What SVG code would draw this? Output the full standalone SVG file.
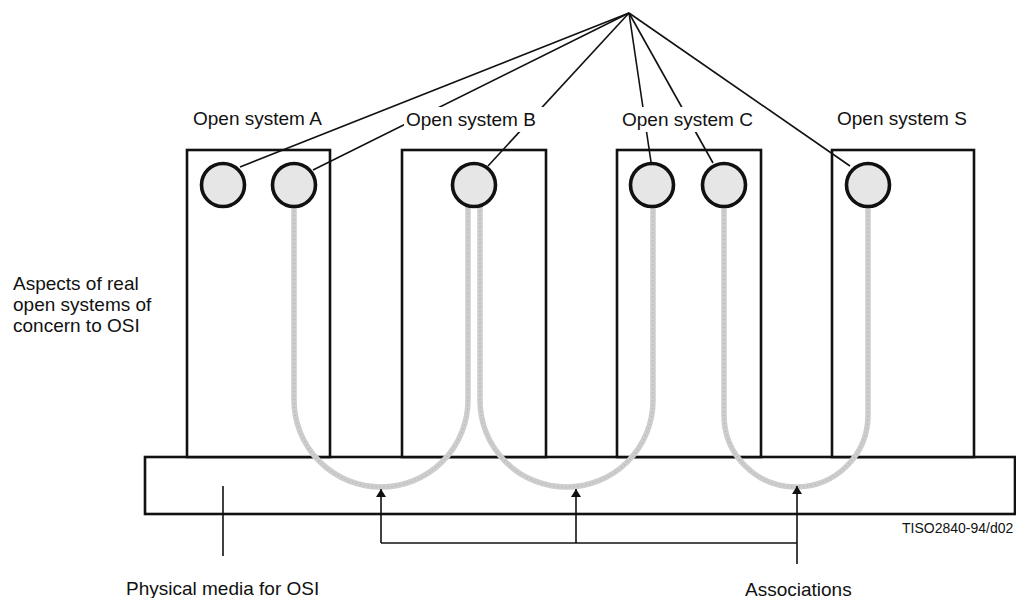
<svg xmlns="http://www.w3.org/2000/svg" width="1016" height="598" viewBox="0 0 1016 598">
  <style>
    .box { fill: #ffffff; stroke: #111111; stroke-width: 2.6; }
    .port { fill: #e6e6e6; stroke: #111111; stroke-width: 3.6; }
    .label { font-family: "Liberation Sans", Arial, sans-serif; font-size: 19px; fill: #111111; }
    .small { font-family: "Liberation Sans", Arial, sans-serif; font-size: 14px; fill: #111111; }
    .link { fill: none; stroke: #111111; stroke-width: 1.6; }
    .assoc { fill: none; stroke: #cdcdcd; stroke-width: 5.5; stroke-linecap: round; }
    .grain { fill: none; stroke: #b4b4b4; stroke-width: 1.2; stroke-dasharray: 1 3; }
    .lead { fill: none; stroke: #111111; stroke-width: 1.6; }
    .mask { fill: #ffffff; }
  </style>
  <defs>
    <marker id="tip" viewBox="0 0 8 10" refX="8" refY="5" markerWidth="8" markerHeight="10" markerUnits="userSpaceOnUse" orient="auto">
      <path d="M0,0 L8,5 L0,10 Z" fill="#111111"/>
    </marker>
  </defs>

  <rect width="1016" height="598" fill="#ffffff"/>

  <!-- physical media (shared platform) -->
  <g id="physical-media">
    <rect class="box" x="145" y="457" width="870" height="57"/>
  </g>

  <!-- open systems -->
  <g id="system-a">
    <rect class="box" x="187" y="150" width="143" height="307"/>
    <text class="label" x="193" y="125">Open system A</text>
  </g>
  <g id="system-b">
    <rect class="box" x="402" y="150" width="144" height="307"/>
  </g>
  <g id="system-c">
    <rect class="box" x="617" y="150" width="144" height="307"/>
  </g>
  <g id="system-s">
    <rect class="box" x="832" y="150" width="142" height="307"/>
    <text class="label" x="837" y="125">Open system S</text>
  </g>

  <!-- connectors -->
  <g id="connectors">
    <!-- lines from the common point to each entity -->
    <g id="entity-links">
      <line class="link" x1="629" y1="13" x2="240" y2="167"/>
      <line class="link" x1="629" y1="13" x2="313" y2="170"/>
      <line class="link" x1="629" y1="13" x2="488" y2="166"/>
      <line class="link" x1="629" y1="13" x2="651" y2="162"/>
      <line class="link" x1="629" y1="13" x2="713" y2="163"/>
      <line class="link" x1="629" y1="13" x2="850" y2="166"/>
    </g>
    <!-- associations through the physical media -->
    <g id="associations">
      <path class="assoc" d="M294,207 V400 A87,87 0 0 0 468,400 V207"/>
      <path class="assoc" d="M480,207 V400.5 A86.5,86.5 0 0 0 653,400.5 V207"/>
      <path class="assoc" d="M724,207 V415 A72,72 0 0 0 868,415 V207"/>
      <path class="grain" d="M294,207 V400 A87,87 0 0 0 468,400 V207"/>
      <path class="grain" d="M480,207 V400.5 A86.5,86.5 0 0 0 653,400.5 V207"/>
      <path class="grain" d="M724,207 V415 A72,72 0 0 0 868,415 V207"/>
    </g>
    <!-- leaders -->
    <g id="leaders">
      <line class="lead" x1="223" y1="486" x2="223" y2="556"/>
      <polyline class="lead" points="381,543 797,543"/>
      <line class="lead" x1="381" y1="543" x2="381" y2="489" marker-end="url(#tip)"/>
      <line class="lead" x1="576" y1="543" x2="576" y2="489" marker-end="url(#tip)"/>
      <line class="lead" x1="797" y1="564" x2="797" y2="486" marker-end="url(#tip)"/>
    </g>
  </g>

  <!-- entity ports -->
  <g id="ports">
    <circle class="port" cx="223" cy="185" r="21.5"/>
    <circle class="port" cx="294" cy="185" r="21.5"/>
    <circle class="port" cx="474" cy="185" r="21.5"/>
    <circle class="port" cx="652" cy="185" r="21.5"/>
    <circle class="port" cx="724" cy="185" r="21.5"/>
    <circle class="port" cx="868" cy="185" r="21.5"/>
  </g>

  <!-- labels that interrupt the entity links -->
  <g id="label-b">
    <rect class="mask" x="404" y="107" width="141" height="25"/>
    <text class="label" x="406" y="126">Open system B</text>
  </g>
  <g id="label-c">
    <rect class="mask" x="620" y="107" width="138" height="25"/>
    <text class="label" x="622" y="126">Open system C</text>
  </g>

  <g id="caption-aspects">
    <text class="label" x="13" y="290">Aspects of real</text>
    <text class="label" x="13" y="311">open systems of</text>
    <text class="label" x="13" y="332">concern to OSI</text>
  </g>
  <g id="caption-media">
    <text class="label" x="126" y="595">Physical media for OSI</text>
  </g>
  <g id="caption-associations">
    <text class="label" x="745" y="596">Associations</text>
  </g>
  <text class="small" x="902" y="533">TISO2840-94/d02</text>
</svg>
